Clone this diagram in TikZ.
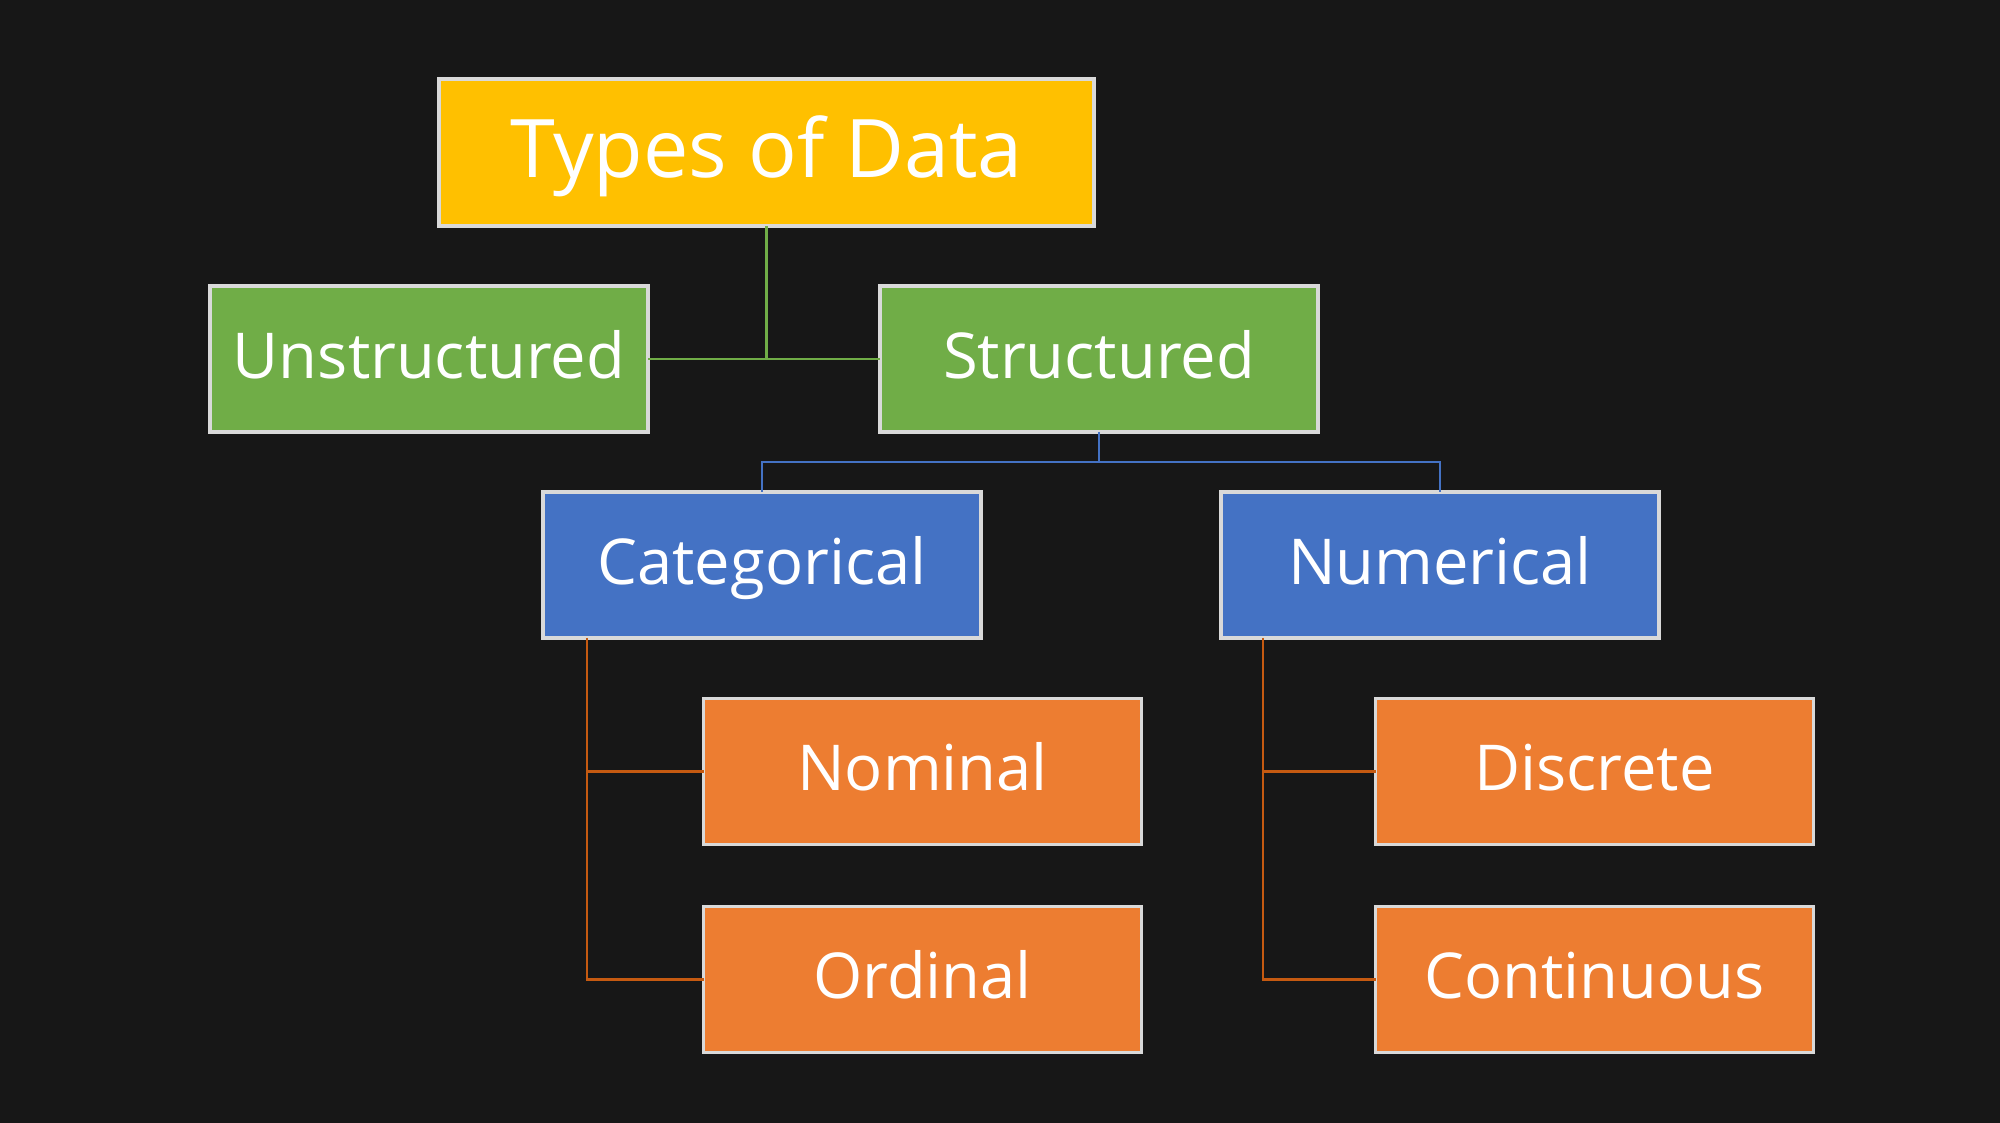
\documentclass[tikz,border=0pt]{standalone}
\usepackage{fontspec}
\setmainfont{Open Sans}
\usetikzlibrary{positioning,calc}

\definecolor{bgdark}{HTML}{171717}
\definecolor{boxedge}{HTML}{D9D9D9}
\definecolor{topyellow}{HTML}{FFC000}
\definecolor{leafgreen}{HTML}{70AD47}
\definecolor{midblue}{HTML}{4472C4}
\definecolor{leaforange}{HTML}{ED7D31}
\definecolor{lineorange}{HTML}{C55A11}

\begin{document}
\begin{tikzpicture}[
  box/.style={draw=boxedge, line width=0.9pt, outer sep=0pt, minimum width=4.38cm, minimum height=1.46cm, align=center, text=white, text height=14pt, text depth=3pt, font=\fontsize{18}{21}\selectfont},
  topbox/.style={box, fill=topyellow, minimum width=6.55cm, minimum height=1.47cm, text height=18pt, text depth=4pt, font=\fontsize{23}{27}\selectfont},
  link/.style={line width=0.7pt}
]
  % background and page size
  \fill[bgdark] (0,0) rectangle (20,11.23);

  \node[topbox] (types) at (7.665,9.705) {Types of Data};
  \node[box, fill=leafgreen] (unstr) at (4.29,7.64) {Unstructured};
  \node[box, fill=leafgreen, right=2.32cm of unstr] (struct) {Structured};
  \node[box, fill=midblue] (cat) at (7.62,5.58) {Categorical};
  \node[box, fill=midblue, right=2.40cm of cat] (num) {Numerical};
  \node[box, fill=leaforange] (nom) at (9.225,3.515) {Nominal};
  \node[box, fill=leaforange, below=0.62cm of nom] (ord) {Ordinal};
  \node[box, fill=leaforange, right=2.34cm of nom] (disc) {Discrete};
  \node[box, fill=leaforange, below=0.62cm of disc] (cont) {Continuous};

  % junction points
  \coordinate (bj) at ($(struct.south)!0.5!(struct.south |- cat.north)$);
  \coordinate (cs) at ([xshift=0.44cm]cat.south west);
  \coordinate (ns) at ([xshift=0.42cm]num.south west);

  \draw[link, leafgreen] (unstr.east) -- (struct.west);
  \draw[link, leafgreen] (types.south) -- (types.south |- unstr.east);
  \draw[link, midblue] (struct.south) -- (bj);
  \draw[link, midblue] (cat.north) |- (bj) -| (num.north);
  \draw[link, lineorange] (cs) |- (nom.west);
  \draw[link, lineorange] (cs) |- (ord.west);
  \draw[link, lineorange] (ns) |- (disc.west);
  \draw[link, lineorange] (ns) |- (cont.west);
\end{tikzpicture}
\end{document}
